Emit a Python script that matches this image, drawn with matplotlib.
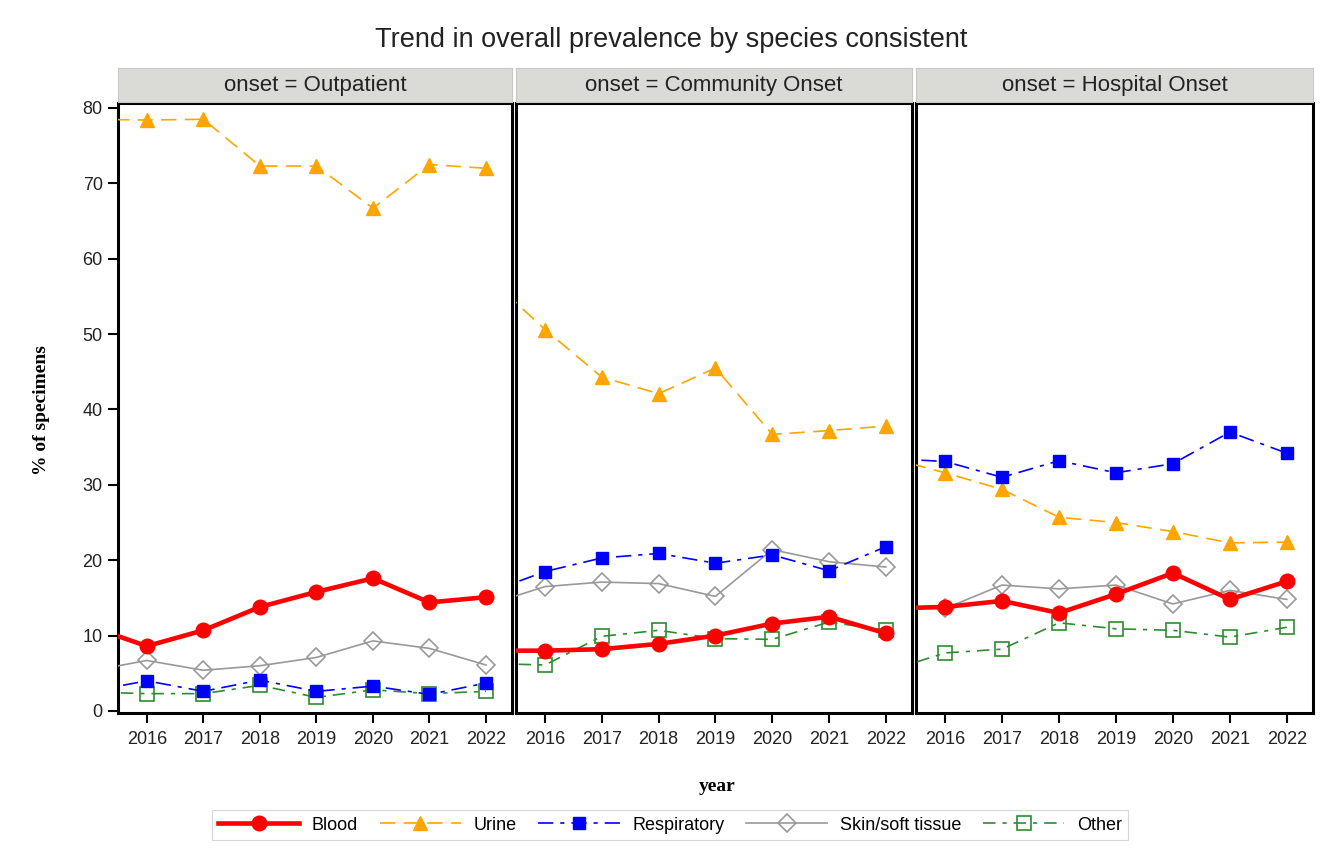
import matplotlib
matplotlib.use("Agg")
import matplotlib.pyplot as plt

plt.rcParams['font.family'] = ['Liberation Sans', 'DejaVu Sans']
plt.rcParams['lines.scale_dashes'] = False

# ---- data -------------------------------------------------------------
years = [2015, 2016, 2017, 2018, 2019, 2020, 2021, 2022]
tick_years = [2016, 2017, 2018, 2019, 2020, 2021, 2022]
onsets = ["Outpatient", "Community Onset", "Hospital Onset"]
species = ["Blood", "Urine", "Respiratory", "Skin/soft tissue", "Other"]

outpatient_blood = [11.2, 8.6, 10.7, 13.8, 15.8, 17.6, 14.4, 15.1]
outpatient_urine = [78.5, 78.4, 78.5, 72.3, 72.3, 66.7, 72.5, 72.0]
outpatient_resp = [2.6, 4.0, 2.6, 4.1, 2.6, 3.3, 2.2, 3.7]
outpatient_skin = [5.3, 6.7, 5.4, 6.0, 7.1, 9.3, 8.3, 6.1]
outpatient_other = [2.5, 2.3, 2.3, 3.4, 1.8, 2.8, 2.3, 2.6]

community_blood = [8.0, 8.0, 8.2, 8.9, 10.0, 11.6, 12.5, 10.3]
community_urine = [57.6, 50.6, 44.3, 42.1, 45.5, 36.7, 37.2, 37.8]
community_resp = [15.7, 18.5, 20.3, 20.9, 19.6, 20.7, 18.6, 21.8]
community_skin = [14.1, 16.5, 17.1, 16.9, 15.2, 21.4, 19.8, 19.1]
community_other = [6.3, 6.1, 9.9, 10.7, 9.6, 9.5, 11.8, 10.7]

hospital_blood = [13.6, 13.8, 14.6, 13.0, 15.5, 18.3, 14.8, 17.2]
hospital_urine = [33.6, 31.6, 29.4, 25.7, 25.0, 23.8, 22.3, 22.4]
hospital_resp = [33.5, 33.1, 31.0, 33.2, 31.6, 32.8, 37.0, 34.2]
hospital_skin = [13.6, 13.6, 16.7, 16.2, 16.7, 14.2, 16.0, 14.8]
hospital_other = [5.3, 7.7, 8.2, 11.7, 10.9, 10.7, 9.8, 11.1]

panel_series = [
    [outpatient_blood, outpatient_urine, outpatient_resp, outpatient_skin, outpatient_other],
    [community_blood, community_urine, community_resp, community_skin, community_other],
    [hospital_blood, hospital_urine, hospital_resp, hospital_skin, hospital_other],
]

# ---- styles -----------------------------------------------------------
styles = [
    dict(color="#FF0000", lw=3.3, ls="-", marker="o", ms=10.5, mfc="#FF0000", mec="#FF0000", zorder=5),
    dict(color="#FFA500", lw=1.2, ls=(0, (11, 6)), marker="^", ms=10, mfc="#FFA500", mec="#FFA500", zorder=4),
    dict(color="#0000FF", lw=1.2, ls=(0, (11, 5, 3, 5)), marker="s", ms=9, mfc="#0000FF", mec="#0000FF", zorder=4),
    dict(color="#999999", lw=1.2, ls="-", marker="D", ms=9, mfc="none", mec="#999999", mew=1.2, zorder=3),
    dict(color="#2E8B2E", lw=1.2, ls=(0, (9, 5, 3, 5)), marker="s", ms=10, mfc="none", mec="#2E8B2E", mew=1.2, zorder=3),
]

W, H = 1335, 855
fig = plt.figure(figsize=(W / 100, H / 100), dpi=100)


def frac(l, t, r, b):
    return [l / W, 1 - b / H, (r - l) / W, (b - t) / H]


panels = [(118, 512), (516, 912), (916, 1313)]
top, bottom = 103, 713
strip_top = 68

handles = []
for i, ((l, r), onset, series) in enumerate(zip(panels, onsets, panel_series)):
    ax = fig.add_axes(frac(l, top, r, bottom))
    for vals, st, name in zip(series, styles, species):
        ln, = ax.plot(years, vals, label=name, **st)
        if i == 0:
            handles.append(ln)
    ax.set_xlim(2015.49, 2022.46)
    ax.set_ylim(-0.27, 80.66)
    ax.set_xticks(tick_years)
    ax.set_xticklabels([str(y) for y in tick_years], fontsize=13, color="#222222")
    ax.set_yticks(range(0, 81, 10))
    if i == 0:
        ax.set_yticklabels([str(v) for v in range(0, 81, 10)], fontsize=13, color="#222222")
        ax.tick_params(axis="y", length=7, width=1.5, direction="out", pad=4)
    else:
        ax.tick_params(axis="y", left=False, labelleft=False)
    ax.tick_params(axis="x", length=7, width=1.5, direction="out", pad=6)
    for sp in ax.spines.values():
        sp.set_linewidth(2.2)
        sp.set_color("black")

    # header strip with the panel label
    sax = fig.add_axes(frac(l, strip_top, r, top - 1))
    sax.set_xticks([])
    sax.set_yticks([])
    sax.set_facecolor("#DADBD6")
    for sp in sax.spines.values():
        sp.set_color("#C8C8C8")
        sp.set_linewidth(0.8)
    sax.text(0.5, 0.5, f"onset = {onset}", ha="center", va="center",
             fontsize=16, color="#222222", transform=sax.transAxes)

fig.text(671 / W, 1 - 40 / H, "Trend in overall prevalence by species consistent",
         ha="center", va="center", fontsize=19.5, color="#222222")

fig.text(42 / W, 1 - 410 / H, "% of specimens", rotation=90, ha="center", va="center",
         fontsize=14, fontweight="bold", family="Liberation Serif")
fig.text(717 / W, 1 - 786 / H, "year", ha="center", va="center",
         fontsize=14, fontweight="bold", family="Liberation Serif")

leg = fig.legend(handles, species, loc="center", bbox_to_anchor=(670 / W, 1 - 825 / H),
                 ncol=5, fontsize=13, handlelength=4.5, columnspacing=1.2,
                 handletextpad=0.7, frameon=True, fancybox=False, borderpad=0.35)
leg.get_frame().set_edgecolor("#CCCCCC")
leg.get_frame().set_linewidth(0.8)

fig.savefig("out.png", dpi=100)
